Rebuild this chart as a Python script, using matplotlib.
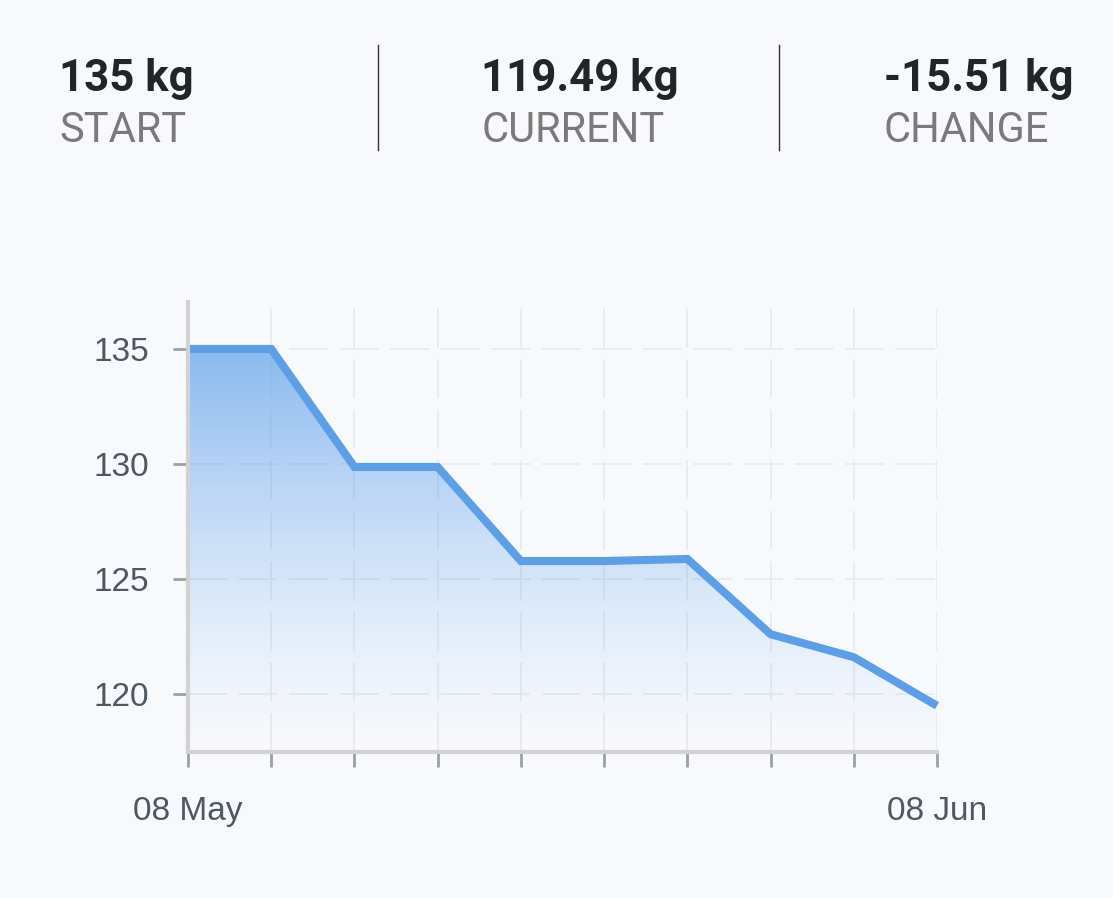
import numpy as np
import matplotlib
matplotlib.use("Agg")
import matplotlib.pyplot as plt
from matplotlib.patches import Polygon

# ---- data ----
weights = [135.0, 135.0, 129.87, 129.87, 125.78, 125.78, 125.87, 122.6, 121.6, 119.49]
x_labels = ["08 May", "", "", "", "", "", "", "", "", "08 Jun"]
y_ticks = [120, 125, 130, 135]
stat_values = ["135 kg", "119.49 kg", "-15.51 kg"]
stat_labels = ["START", "CURRENT", "CHANGE"]

W, H = 1113, 898
BG = "#f7f9fd"
fig = plt.figure(figsize=(W / 100, H / 100), dpi=100, facecolor=BG)

def fx(px):
    return px / W

def fy(py):
    return 1 - py / H

# ---- header stats ----
stat_x = [59, 481, 884]
for xs, v, l in zip(stat_x, stat_values, stat_labels):
    fig.text(fx(xs), fy(91), v, fontsize=31.5, fontweight="bold", family="Roboto",
             color="#222428", ha="left", va="baseline")
    fig.text(fx(xs), fy(142), l, fontsize=30, family="Roboto",
             color="#7a7a7a", ha="left", va="baseline")
for sx in [378, 779]:
    fig.add_artist(plt.Line2D([fx(sx), fx(sx)], [fy(45), fy(150)],
                              color="#333333", lw=1.0, transform=fig.transFigure))

# ---- chart ----
left, right, top, bottom = 188, 937, 302, 752
ax = fig.add_axes([fx(left), fy(bottom), fx(right - left), (bottom - top) / H])
ax.set_facecolor("none")
x = np.arange(len(weights))
ax.set_xlim(0, len(weights) - 1)
ax.set_ylim(117.48, 137.04)

# gradient fill
ymin, ymax = ax.get_ylim()
rgba = np.zeros((256, 1, 4))
base = np.array([0.36, 0.62, 0.92])
rgba[..., 0] = base[0]
rgba[..., 1] = base[1]
rgba[..., 2] = base[2]
top_val = max(weights)
frac = (np.linspace(ymin, top_val, 256) - ymin) / (top_val - ymin)
rgba[:, 0, 3] = np.clip(frac, 0, 1) ** 1.4 * 0.7
im = ax.imshow(rgba, extent=[0, len(weights) - 1, ymin, top_val], origin="lower",
               aspect="auto", zorder=1)
poly_pts = np.column_stack([np.concatenate([x, [x[-1], x[0]]]),
                            np.concatenate([weights, [ymin, ymin]])])
clip = Polygon(poly_pts, closed=True, facecolor="none", edgecolor="none")
ax.add_patch(clip)
im.set_clip_path(clip)

ax.plot(x, weights, color="#5b9fe8", lw=5.8, solid_joinstyle="miter",
        solid_capstyle="butt", zorder=3, clip_on=False)

# grid
ax.set_xticks(x)
ax.set_xticklabels(x_labels)
ax.set_yticks(y_ticks)
ax.grid(True, color="#e8ebf0", lw=1.4, linestyle=(0, (20, 6)), zorder=0)
ax.set_axisbelow(True)

for s in ["top", "right"]:
    ax.spines[s].set_visible(False)
for s in ["left", "bottom"]:
    ax.spines[s].set_color("#d2d2d2")
    ax.spines[s].set_linewidth(3)
    ax.spines[s].set_zorder(4)

ax.tick_params(axis="both", colors="#9aa0a6", width=2, length=11, direction="out",
               labelcolor="#4d5862", labelsize=24)
ax.tick_params(axis="y", pad=17)
ax.tick_params(axis="x", pad=21)
for lab in ax.get_xticklabels() + ax.get_yticklabels():
    lab.set_family("Liberation Sans")

fig.savefig("out.png", dpi=100, facecolor=BG)
